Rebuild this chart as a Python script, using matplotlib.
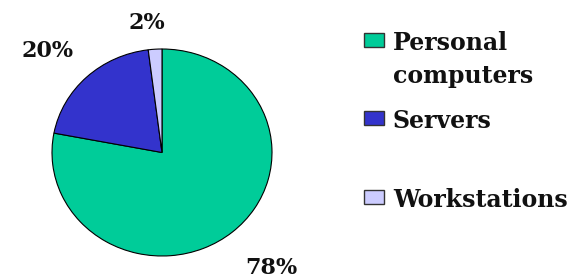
import matplotlib.pyplot as plt
from matplotlib.patches import Rectangle

# parts du marché
categories = ['Personal\ncomputers', 'Servers', 'Workstations']
shares = [78, 20, 2]
pct_labels = ['78%', '20%', '2%']
colors = ['#00CC99', '#3333CC', '#CCCCFF']

# position des étiquettes (coordonnées du camembert)
label_xy = [(0.99, -1.12), (-1.04, 0.98), (-0.14, 1.25)]

fig = plt.figure(figsize=(5.82, 2.8), dpi=100)
font = dict(family='DejaVu Serif', fontweight='bold', color='#111111')

# camembert légèrement étiré comme l'original
ax = fig.add_axes([52 / 582, 24 / 280, 220 / 582, 207 / 280])
ax.pie(shares, colors=colors, startangle=90, counterclock=False,
       wedgeprops=dict(edgecolor='black', linewidth=0.8))
ax.set_aspect('auto')
ax.set_xlim(-1, 1)
ax.set_ylim(-1, 1)
for (x, y), txt in zip(label_xy, pct_labels):
    ax.text(x, y, txt, ha='center', va='center', fontsize=16, clip_on=False, **font)

# légende manuelle
leg_y = [40, 118, 197]
for yc, lab, col in zip(leg_y, categories, colors):
    fig.patches.append(Rectangle((364 / 582, 1 - (yc + 7) / 280), 20 / 582, 14 / 280,
                                 transform=fig.transFigure, facecolor=col,
                                 edgecolor='#333333', linewidth=1))
    for i, line in enumerate(lab.split('\n')):
        fig.text(393 / 582, 1 - (yc + 10 + 33 * i) / 280, line, ha='left',
                 va='baseline', fontsize=17, **font)

fig.savefig('out.png', dpi=100)
